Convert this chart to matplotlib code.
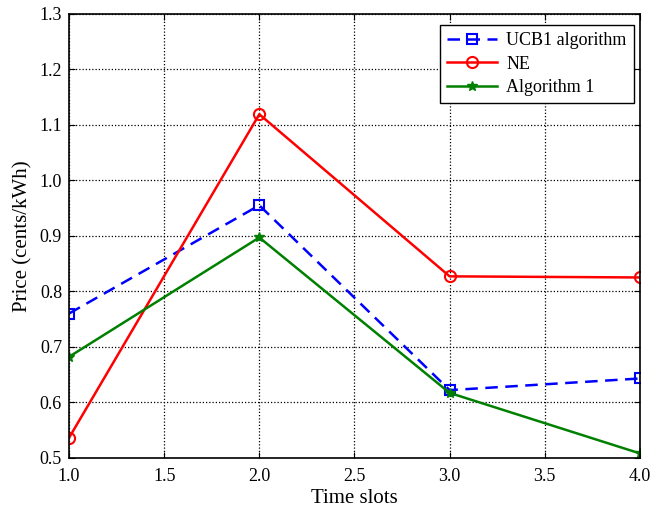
import numpy as np
import matplotlib.pyplot as plt

plt.rcParams['font.family'] = ['Liberation Serif', 'DejaVu Serif']
plt.rcParams['font.size'] = 12

# price per time slot for each scheme
time_slots = [1.0, 2.0, 3.0, 4.0]
ucb1_price = [0.760, 0.955, 0.622, 0.643]
ne_price = [0.536, 1.119, 0.827, 0.825]
alg1_price = [0.682, 0.897, 0.617, 0.508]

fig = plt.figure(figsize=(6.51, 5.11), dpi=100)
ax = fig.add_axes([0.106, 0.104, 0.877, 0.869])

ax.plot(time_slots, ucb1_price, color='blue', ls='--', lw=1.8, marker='s',
        ms=7, mfc='none', mew=1.5, dashes=(5, 3), label='UCB1 algorithm')
ax.plot(time_slots, ne_price, color='red', ls='-', lw=1.8, marker='o',
        ms=8, mfc='none', mew=1.5, label='NE')
ax.plot(time_slots, alg1_price, color='green', ls='-', lw=1.8, marker='*',
        ms=7, label='Algorithm 1')

ax.set_xlim(1.0, 4.0)
ax.set_ylim(0.5, 1.3)
ax.set_xticks(np.arange(1.0, 4.01, 0.5))
ax.set_yticks(np.arange(0.5, 1.301, 0.1))
ax.xaxis.set_major_formatter(plt.FormatStrFormatter('%.1f'))
ax.yaxis.set_major_formatter(plt.FormatStrFormatter('%.1f'))
ax.tick_params(direction='in', top=True, right=True, length=4, labelsize=13)
ax.tick_params(axis='x', pad=7)
ax.tick_params(axis='y', pad=5)
ax.grid(True, color='black', ls=(0, (1, 1.6)), lw=0.9)
for sp in ax.spines.values():
    sp.set_linewidth(1.2)

ax.set_xlabel('Time slots', fontsize=15, labelpad=3)
ax.set_ylabel('Price (cents/kWh)', fontsize=15, labelpad=5)

leg = ax.legend(loc='upper right', bbox_to_anchor=(0.9895, 0.975), fontsize=13,
                fancybox=False, framealpha=1, edgecolor='black',
                handlelength=2.8, labelspacing=0.36, borderaxespad=0,
                handletextpad=0.5)
leg.get_frame().set_linewidth(1.0)

fig.savefig('out.png', dpi=100)
